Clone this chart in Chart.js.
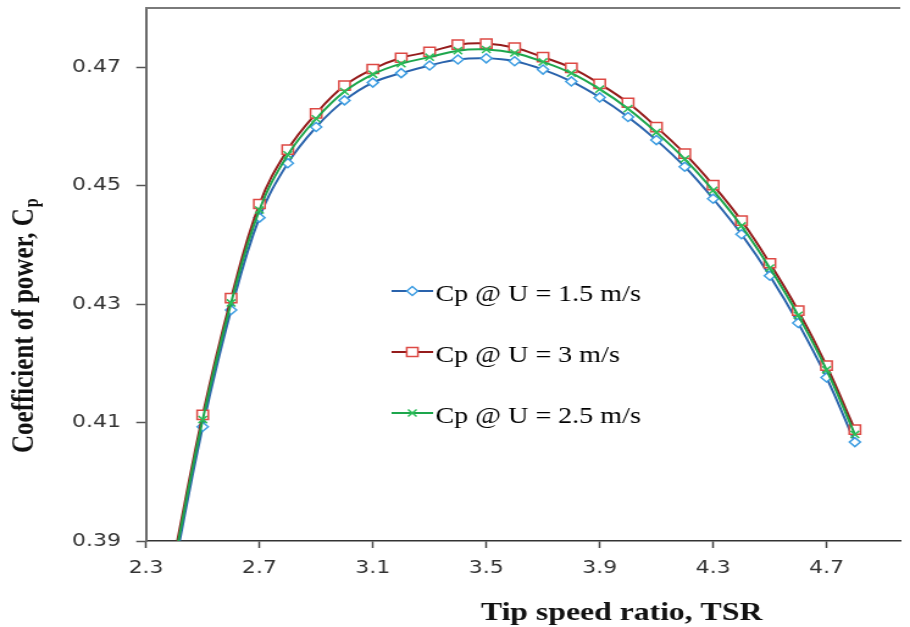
<!DOCTYPE html>
<html>
<head>
<meta charset="utf-8">
<script src="https://cdn.jsdelivr.net/npm/chart.js@4.4.1/dist/chart.umd.min.js"></script>
<style>
  html, body { margin: 0; padding: 0; background: #fff; overflow: hidden; }
  #cp { display: block; }
</style>
</head>
<body>
<!-- the source figure is stretched sideways, so the canvas is drawn narrow and widened by css -->
<canvas id="cp" width="746" height="627" style="width:910px;height:627px"></canvas>
<script>

// tip speed ratio (x) and power coefficient for each wind speed
var tsr = [2.4, 2.5, 2.6, 2.7, 2.8, 2.9, 3.0, 3.1, 3.2, 3.3, 3.4, 3.5, 3.6,
           3.7, 3.8, 3.9, 4.0, 4.1, 4.2, 4.3, 4.4, 4.5, 4.6, 4.7, 4.8];

var cp15 = [0.3855, 0.4093, 0.4290, 0.4446, 0.4538, 0.4599, 0.4644, 0.4674, 0.4690,
            0.4703, 0.4713, 0.4715, 0.4710, 0.4696, 0.4676, 0.4649, 0.4616, 0.4577,
            0.4532, 0.4478, 0.4418, 0.4348, 0.4268, 0.4176, 0.4067];

var cp3 = [0.3875, 0.4113, 0.4310, 0.4469, 0.4561, 0.4622, 0.4669, 0.4697, 0.4716,
           0.4726, 0.4738, 0.4740, 0.4733, 0.4717, 0.4699, 0.4672, 0.4640, 0.4599,
           0.4554, 0.4501, 0.4441, 0.4369, 0.4289, 0.4196, 0.4088];

var cp25 = [0.3866, 0.4105, 0.4302, 0.4459, 0.4552, 0.4613, 0.4659, 0.4688, 0.4706,
            0.4717, 0.4728, 0.4730, 0.4724, 0.4709, 0.4690, 0.4663, 0.4630, 0.4590,
            0.4545, 0.4492, 0.4432, 0.4361, 0.4281, 0.4189, 0.4080];

var xTicks = [2.3, 2.7, 3.1, 3.5, 3.9, 4.3, 4.7];
var yTicks = [0.39, 0.41, 0.43, 0.45, 0.47];

var names = ['Cp @ U = 1.5 m/s', 'Cp @ U = 3 m/s', 'Cp @ U = 2.5 m/s'];


function pts(arr) {
    return tsr.map(function (x, i) { return { x: x, y: arr[i] }; });
}

function drawMarker(ctx, style, x, y, r, color, lw) {
    ctx.save();
    ctx.beginPath();
    if (style === 'rectRot') {
        ctx.moveTo(x - r, y); ctx.lineTo(x, y - r); ctx.lineTo(x + r, y); ctx.lineTo(x, y + r);
        ctx.closePath();
    } else if (style === 'rect') {
        var s = r * Math.SQRT1_2;
        ctx.rect(x - s, y - s, 2 * s, 2 * s);
    } else {
        var d = r * Math.SQRT1_2;
        ctx.moveTo(x - d, y - d); ctx.lineTo(x + d, y + d);
        ctx.moveTo(x - d, y + d); ctx.lineTo(x + d, y - d);
    }
    if (style !== 'crossRot') {
        ctx.fillStyle = '#fff';
        ctx.fill();
    }
    ctx.strokeStyle = color;
    ctx.lineWidth = lw;
    ctx.stroke();
    ctx.restore();
}

// top frame line, axis titles and the legend inside the plot
var extras = {
    id: 'extras',
    afterDraw: function (chart) {
        var ctx = chart.ctx, a = chart.chartArea;
        ctx.save();

        ctx.strokeStyle = '#7a7a7a';
        ctx.lineWidth = 2;
        ctx.beginPath();
        ctx.moveTo(a.left, a.top);
        ctx.lineTo(a.right, a.top);
        ctx.stroke();

        ctx.fillStyle = '#111';
        ctx.font = 'bold 26px "Liberation Serif"';
        ctx.textAlign = 'center';
        ctx.textBaseline = 'alphabetic';
        ctx.fillText('Tip speed ratio, TSR', 509.6, 620);

        ctx.save();
        ctx.translate(26.8, 453);
        ctx.rotate(-Math.PI / 2);
        ctx.textAlign = 'left';
        ctx.font = 'bold 25px "Liberation Serif"';
        var main = 'Coefficient of power, C';
        ctx.fillText(main, 0, 0);
        var w = ctx.measureText(main).width;
        ctx.font = 'bold 16px "Liberation Serif"';
        ctx.fillText('p', w + 1, 4);
        ctx.restore();

        var rows = [291, 352, 413];
        ctx.font = '23px "Liberation Serif"';
        ctx.textAlign = 'left';
        chart.data.datasets.forEach(function (ds, i) {
            var y = rows[i];
            ctx.strokeStyle = ds.borderColor;
            ctx.lineWidth = 2;
            ctx.beginPath();
            ctx.moveTo(321, y);
            ctx.lineTo(355, y);
            ctx.stroke();
            drawMarker(ctx, ds.pointStyle, 338, y, ds.pointRadius, ds.pointBorderColor, ds.pointBorderWidth);
            ctx.fillStyle = '#000';
            ctx.fillText(ds.label, 357, y + 10);
        });

        ctx.restore();
    }
};

var tickFont = { family: '"DejaVu Sans"', size: 18 };

var chart = new Chart(document.getElementById('cp'), {
    type: 'line',
    data: {
        datasets: [{
            label: names[0],
            data: pts(cp15),
            borderColor: '#2A63AC',
            borderWidth: 2,
            pointStyle: 'rectRot',
            pointRadius: 4.5,
            pointBorderColor: '#3F9EE2',
            pointBackgroundColor: '#fff',
            pointBorderWidth: 1.5,
            tension: 0.4,
            order: 3
        }, {
            label: names[1],
            data: pts(cp3),
            borderColor: '#951C1C',
            borderWidth: 2,
            pointStyle: 'rect',
            pointRadius: 6.5,
            pointBorderColor: '#DD4944',
            pointBackgroundColor: '#fff',
            pointBorderWidth: 1.5,
            tension: 0.4,
            order: 2
        }, {
            label: names[2],
            data: pts(cp25),
            borderColor: '#1DA64C',
            borderWidth: 2,
            pointStyle: 'crossRot',
            pointRadius: 5,
            pointBorderColor: '#2CBE5A',
            pointBackgroundColor: '#fff',
            pointBorderWidth: 1.5,
            tension: 0.4,
            order: 1
        }]
    },
    options: {
        responsive: false,
        animation: false,
        devicePixelRatio: 1,
        layout: { padding: { top: 7, left: 0, right: 0, bottom: 0 } },
        plugins: {
            legend: { display: false },
            tooltip: { enabled: false }
        },
        scales: {
            x: {
                type: 'linear',
                min: 2.3,
                max: 4.96,
                afterBuildTicks: function (s) {
                    s.ticks = xTicks.map(function (v) { return { value: v }; });
                },
                afterFit: function (s) { s.height = 86; },
                ticks: {
                    font: tickFont,
                    color: '#333',
                    padding: 10,
                    maxRotation: 0,
                    callback: function (v) { return v.toFixed(1); }
                },
                grid: {
                    drawOnChartArea: false,
                    drawTicks: true,
                    tickLength: 7,
                    tickColor: '#444',
                    tickWidth: 1.5
                },
                border: { display: true, color: '#333', width: 1.5 }
            },
            y: {
                type: 'linear',
                min: 0.39,
                max: 0.48,
                afterBuildTicks: function (s) {
                    s.ticks = yTicks.map(function (v) { return { value: v }; });
                },
                afterFit: function (s) {
                    s.width = 119.7;
                    s.paddingTop = 0;
                    s.paddingBottom = 0;
                },
                ticks: {
                    font: tickFont,
                    color: '#333',
                    padding: 12.5,
                    callback: function (v) { return v.toFixed(2); }
                },
                grid: {
                    drawOnChartArea: false,
                    drawTicks: true,
                    tickLength: 8,
                    tickColor: '#555',
                    tickWidth: 1.5
                },
                border: { display: true, color: '#6a6a6a', width: 2 }
            }
        }
    },
    plugins: [extras]
});
</script>
</body>
</html>
